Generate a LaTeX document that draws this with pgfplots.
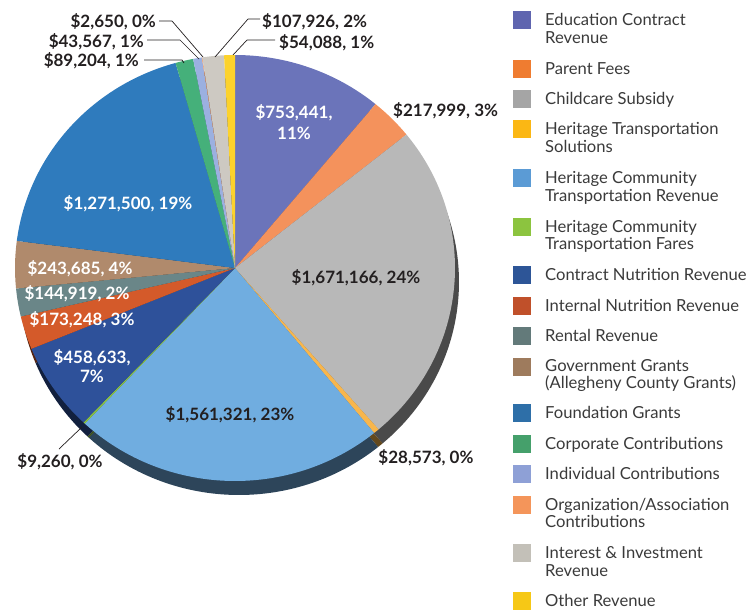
\documentclass[border=0pt]{standalone}
\usepackage{fontspec}
\setmainfont{Lato}
\usepackage{pgfplots}
\pgfplotsset{compat=1.18}

% pie colours
\definecolor{pEdu}{HTML}{6B74BA}
\definecolor{pPar}{HTML}{F4925C}
\definecolor{pChi}{HTML}{B8B8B8}
\definecolor{pHts}{HTML}{F8B64C}
\definecolor{pHcr}{HTML}{70ADE0}
\definecolor{pHcf}{HTML}{8CC43F}
\definecolor{pCnr}{HTML}{2E519A}
\definecolor{pInr}{HTML}{D45A2A}
\definecolor{pRen}{HTML}{6A8688}
\definecolor{pGov}{HTML}{B08A6C}
\definecolor{pFou}{HTML}{2F7BBD}
\definecolor{pCor}{HTML}{45B07A}
\definecolor{pInd}{HTML}{9BB0E0}
\definecolor{pOrg}{HTML}{F4955A}
\definecolor{pInt}{HTML}{CDC9C2}
\definecolor{pOth}{HTML}{FCD22C}
% legend colours
\definecolor{lEdu}{HTML}{5F65AF}
\definecolor{lPar}{HTML}{EF7C30}
\definecolor{lChi}{HTML}{A5A5A5}
\definecolor{lHts}{HTML}{FBB714}
\definecolor{lHcr}{HTML}{5B9BD5}
\definecolor{lHcf}{HTML}{8CC43F}
\definecolor{lCnr}{HTML}{2D5597}
\definecolor{lInr}{HTML}{C0502A}
\definecolor{lRen}{HTML}{637A7A}
\definecolor{lGov}{HTML}{9E7B5D}
\definecolor{lFou}{HTML}{2E6FA8}
\definecolor{lCor}{HTML}{45A06B}
\definecolor{lInd}{HTML}{8EA0D6}
\definecolor{lOrg}{HTML}{F4955A}
\definecolor{lInt}{HTML}{C3C0B8}
\definecolor{lOth}{HTML}{F6C816}
\definecolor{ink}{HTML}{231F20}
\definecolor{legtext}{HTML}{3A3A3A}

\def\total{6831180}
% value/colour, clockwise from 12 o'clock
\newcommand\drawslices[3]{%
  \def\startang{90}%
  \pgfplotsforeachungrouped \s in {753441/pEdu, 217999/pPar, 1671166/pChi,
      28573/pHts, 1561321/pHcr, 9260/pHcf, 458633/pCnr, 173248/pInr,
      144919/pRen, 243685/pGov, 1271500/pFou, 89204/pCor, 43567/pInd,
      2650/pOrg, 107926/pInt, 54088/pOth}{%
    \expandafter\doslice\s\relax{#1}{#2}{#3}%
  }%
}
\def\doslice#1/#2\relax#3#4#5{%
  \edef\endang{\fpeval{\startang-#1/\total*360}}%
  \edef\cmd{\noexpand\fill[#2!#5!black] (axis cs:#3,#4) -- ++(\startang:220pt and 213pt)
    arc[start angle=\startang, end angle=\endang, x radius=220pt, y radius=213pt] -- cycle;}%
  \cmd
  \let\startang\endang
}
\newcommand\lab[4][ink]{\node[anchor=base, text=#1, font=\fontsize{17}{20}\selectfont\bfseries, inner sep=0pt] at (axis cs:#2,#3+6) {#4};}
\newcommand\labl[4][base west]{\node[anchor=#1, text=ink, font=\fontsize{17}{20}\selectfont\bfseries, inner sep=0pt] at (axis cs:#2,#3+6) {#4};}
\newcommand\legtxt[2]{\node[anchor=base west, text=legtext, font=\fontsize{16.6}{18}\selectfont, inner sep=0pt] at (axis cs:545,#1+5.8) {#2};}
\newcommand\legbox[2]{\fill[#2] (axis cs:513,#1-9) rectangle (axis cs:531,#1+9);}

\begin{document}
\begin{tikzpicture}
\begin{axis}[
  width=749pt, height=611pt, scale only axis,
  xmin=0, xmax=749, ymin=0, ymax=611, y dir=reverse,
  hide axis, clip=false]
\path (axis cs:0,0) rectangle (axis cs:749,611);

% side of the tilted pie, then its face
\drawslices{239}{282}{40}
\drawslices{235}{268}{100}

% labels inside
\lab[white]{294}{112}{\$753,441,}
\lab[white]{294}{133}{11\%}
\lab{356}{277}{\$1,671,166, 24\%}
\lab{230}{414}{\$1,561,321, 23\%}
\lab[white]{92}{357}{\$458,633,}
\lab[white]{92}{376}{7\%}
\lab[white]{82}{319}{\$173,248, 3\%}
\lab[white]{77}{293}{\$144,919, 2\%}
\lab[white]{80}{268}{\$243,685, 4\%}
\lab[white]{128}{203}{\$1,271,500, 19\%}

% labels outside
\labl{393}{110}{\$217,999, 3\%}
\lab{426}{457}{\$28,573, 0\%}
\lab{60}{461}{\$9,260, 0\%}
\labl[base east]{156}{21}{\$2,650, 0\%}
\labl[base east]{144}{41}{\$43,567, 1\%}
\labl[base east]{139}{60}{\$89,204, 1\%}
\labl{262}{21}{\$107,926, 2\%}
\labl{279}{42}{\$54,088, 1\%}

% leader lines
\draw[ink, line width=0.7pt] (axis cs:159,21) -- (axis cs:172,21) -- (axis cs:203,57);
\draw[ink, line width=0.7pt] (axis cs:147,40) -- (axis cs:180,40) -- (axis cs:199,59);
\draw[ink, line width=0.7pt] (axis cs:144,60) -- (axis cs:182,60) -- (axis cs:184,63);
\draw[ink, line width=0.7pt] (axis cs:260,19) -- (axis cs:248,19) -- (axis cs:215,57);
\draw[ink, line width=0.7pt] (axis cs:275,40) -- (axis cs:247,40) -- (axis cs:233,55);
\draw[ink, line width=0.7pt] (axis cs:82,427) -- (axis cs:59,449);

% legend
\legbox{20}{lEdu}\legtxt{20}{Education Contract}\legtxt{38}{Revenue}
\legbox{69}{lPar}\legtxt{69}{Parent Fees}
\legbox{99}{lChi}\legtxt{99}{Childcare Subsidy}
\legbox{129}{lHts}\legtxt{129}{Heritage Transportation}\legtxt{147}{Solutions}
\legbox{178}{lHcr}\legtxt{178}{Heritage Community}\legtxt{196}{Transportation Revenue}
\legbox{227}{lHcf}\legtxt{227}{Heritage Community}\legtxt{244}{Transportation Fares}
\legbox{275}{lCnr}\legtxt{275}{Contract Nutrition Revenue}
\legbox{306}{lInr}\legtxt{306}{Internal Nutrition Revenue}
\legbox{336}{lRen}\legtxt{336}{Rental Revenue}
\legbox{367}{lGov}\legtxt{366}{Government Grants}\legtxt{383}{(Allegheny County Grants)}
\legbox{413}{lFou}\legtxt{413}{Foundation Grants}
\legbox{444}{lCor}\legtxt{444}{Corporate Contributions}
\legbox{474}{lInd}\legtxt{474}{Individual Contributions}
\legbox{505}{lOrg}\legtxt{505}{Organization/Association}\legtxt{522}{Contributions}
\legbox{553}{lInt}\legtxt{553}{Interest \& Investment}\legtxt{571}{Revenue}
\legbox{601}{lOth}\legtxt{601}{Other Revenue}
\end{axis}
\end{tikzpicture}
\end{document}
